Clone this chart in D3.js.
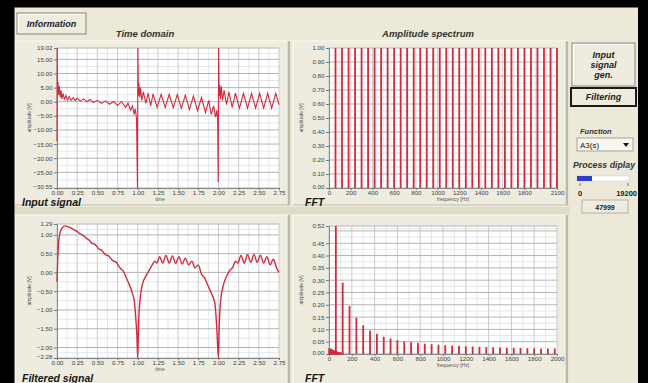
<!DOCTYPE html>
<html>
<head>
<meta charset="utf-8">
<script src="https://cdn.jsdelivr.net/npm/d3@7/dist/d3.min.js"></script>
<style>
  body { margin: 0; background: #000; }
  svg { display: block; font-family: "Liberation Sans", Arial, sans-serif; }
</style>
</head>
<body>
<div id="root"></div>
<script>
// ---- data ----
// input signal (time domain)
const inputT = [0, 0.002, 0.006, 0.012, 0.02, 0.03, 0.04, 0.05, 0.06, 0.075, 0.09, 0.11, 0.13, 0.15, 0.175, 0.2, 0.225, 0.25, 0.29, 0.33, 0.37, 0.41, 0.45, 0.5, 0.55, 0.6, 0.65, 0.7, 0.75, 0.8, 0.85, 0.88, 0.91, 0.935, 0.955, 0.97, 0.985, 0.997,
  1.002, 1.008, 1.015, 1.025, 1.035, 1.05, 1.07, 1.1, 1.13, 1.16, 1.19, 1.24, 1.29, 1.34, 1.39, 1.44, 1.49, 1.54, 1.59, 1.64, 1.69, 1.74, 1.79, 1.84, 1.88, 1.91, 1.94, 1.965, 1.98, 1.99, 1.997,
  2.002, 2.008, 2.015, 2.025, 2.035, 2.05, 2.07, 2.1, 2.13, 2.17, 2.21, 2.26, 2.31, 2.36, 2.41, 2.46, 2.51, 2.56, 2.61, 2.66, 2.71, 2.75];
const inputV = [-14, 19, 2, 7, 2.5, 5.5, 1.5, 4, 1, 3, 0.8, 2.2, 0.6, 1.8, 0.5, 1.4, 0.4, 1.2, 0.2, 1.0, 0, 0.8, -0.3, 0.5, -0.6, 0.3, -0.9, 0.1, -1.3, 0, -2, -0.5, -3, -1.5, -4.5, -2.5, -6, -30.55,
  19, 2, 6.5, 1.5, 5, 0.5, 3.5, -0.5, 3, -1.5, 2.8, -2, 2.6, -2, 2.6, -2.1, 2.5, -2.3, 2.3, -2.8, 2, -3.2, 1.5, -3.8, 0.5, -4.5, -1.5, -5.5, -3, -6, -28.5,
  19, 2, 6, 1, 5.5, 0.5, 4, -1, 3.5, -2, 3, -2.3, 3, -2.3, 3, -2.3, 3, -2.3, 3, -2.3, 3, -1];

// filtered signal (time domain)
const filtT = [0, 0.01, 0.02, 0.04, 0.07, 0.1, 0.13, 0.16, 0.2, 0.24, 0.28, 0.31, 0.34, 0.37, 0.4, 0.43, 0.46, 0.49, 0.52, 0.55, 0.58, 0.61, 0.64, 0.67, 0.7, 0.73, 0.76, 0.79, 0.82, 0.85, 0.88, 0.91, 0.94, 0.96, 0.975, 0.99, 1.0,
  1.01, 1.03, 1.06, 1.1, 1.14, 1.18, 1.21, 1.24, 1.27, 1.31, 1.35, 1.39, 1.43, 1.47, 1.51, 1.55, 1.59, 1.63, 1.67, 1.71, 1.75, 1.79, 1.83, 1.87, 1.91, 1.94, 1.96, 1.98, 2.0,
  2.01, 2.03, 2.06, 2.1, 2.14, 2.18, 2.21, 2.24, 2.28, 2.32, 2.36, 2.4, 2.44, 2.48, 2.52, 2.56, 2.6, 2.64, 2.68, 2.72, 2.75];
const filtV = [-0.25, 0.4, 0.8, 1.07, 1.2, 1.24, 1.22, 1.2, 1.15, 1.1, 1.04, 1.0, 0.96, 0.9, 0.86, 0.78, 0.76, 0.7, 0.62, 0.6, 0.52, 0.46, 0.44, 0.36, 0.3, 0.28, 0.18, 0.1, 0.04, -0.1, -0.25, -0.4, -0.6, -0.8, -1.2, -1.7, -2.28,
  -1.4, -0.7, -0.3, -0.1, 0.05, 0.2, 0.3, 0.25, 0.42, 0.25, 0.45, 0.25, 0.44, 0.24, 0.42, 0.22, 0.38, 0.2, 0.3, 0.12, 0.2, -0.05, -0.15, -0.35, -0.55, -0.7, -0.9, -1.5, -2.28,
  -1.4, -0.7, -0.35, -0.1, 0.05, 0.15, 0.3, 0.25, 0.45, 0.25, 0.48, 0.27, 0.48, 0.27, 0.46, 0.25, 0.42, 0.2, 0.35, 0.12, 0.0];

// amplitude spectrum of input: harmonics, all at 1.00
const specInF = [60, 120, 180, 240, 300, 360, 420, 480, 540, 600, 660, 720, 780, 840, 900, 960, 1020, 1080, 1140, 1200, 1260, 1320, 1380, 1440, 1500, 1560, 1620, 1680, 1740, 1800, 1860, 1920, 1980, 2040, 2100];
const specInA = [1, 1, 1, 1, 1, 1, 1, 1, 1, 1, 1, 1, 1, 1, 1, 1, 1, 1, 1, 1, 1, 1, 1, 1, 1, 1, 1, 1, 1, 1, 1, 1, 1, 1, 1];

// amplitude spectrum of filtered signal
const specOutF = [60, 120, 180, 240, 300, 360, 420, 480, 540, 600, 660, 720, 780, 840, 900, 960, 1020, 1080, 1140, 1200, 1260, 1320, 1380, 1440, 1500, 1560, 1620, 1680, 1740, 1800, 1860, 1920, 1980];
const specOutA = [0.52, 0.29, 0.195, 0.147, 0.117, 0.095, 0.082, 0.07, 0.063, 0.056, 0.051, 0.048, 0.045, 0.042, 0.04, 0.038, 0.036, 0.034, 0.033, 0.031, 0.03, 0.029, 0.028, 0.027, 0.026, 0.025, 0.025, 0.024, 0.023, 0.023, 0.022, 0.022, 0.022];
const dcF = [0, 20, 40, 60, 80, 100, 120];
const dcA = [0.02, 0.018, 0.013, 0.009, 0.006, 0.004, 0.003];

// tick labels
const timeTicks = [0, 0.25, 0.5, 0.75, 1, 1.25, 1.5, 1.75, 2, 2.25, 2.5, 2.75];
const inputYTicks = [19.02, 15, 10, 5, 0, -5, -10, -15, -20, -25, -30.55];
const filtYTicks = [1.29, 1, 0.5, 0, -0.5, -1, -1.5, -2, -2.28];
const specInXTicks = [0, 200, 400, 600, 800, 1000, 1200, 1400, 1600, 1800, 2100];
const specInYTicks = [0, 0.1, 0.2, 0.3, 0.4, 0.5, 0.6, 0.7, 0.8, 0.9, 1];
const specOutXTicks = [0, 200, 400, 600, 800, 1000, 1200, 1400, 1600, 1800, 2000];
const specOutYTicks = [0, 0.05, 0.1, 0.15, 0.2, 0.25, 0.3, 0.35, 0.4, 0.45, 0.52];

const W = 648, H = 383;
const BG = "#ECE9D8";
const RED = "#d22a3c";

const svg = d3.select("#root").append("svg")
  .attr("width", W).attr("height", H);

svg.append("rect").attr("width", W).attr("height", H).attr("fill", BG);

// band between upper and lower graphs
svg.append("rect").attr("x", 15).attr("y", 206).attr("width", 555).attr("height", 9).attr("fill", "#DFDBC9");

// graph frames
const frames = [[15, 41, 290, 206], [293, 41, 568, 206], [15, 215, 290, 390], [293, 215, 568, 390]];
frames.forEach(f => {
  svg.append("rect").attr("x", f[0]).attr("y", f[1]).attr("width", f[2] - f[0]).attr("height", f[3] - f[1])
    .attr("fill", "#EEEBDF").attr("stroke", "#fbfaf4").attr("stroke-width", 1);
  svg.append("line").attr("x1", f[2] - 1).attr("x2", f[2] - 1).attr("y1", f[1]).attr("y2", f[3])
    .attr("stroke", "#bdb9a6").attr("stroke-width", 2.5);
  svg.append("line").attr("x1", f[0]).attr("x2", f[2]).attr("y1", f[3] - 1).attr("y2", f[3] - 1)
    .attr("stroke", "#cfcbb9").attr("stroke-width", 1.5);
});

function midpoints(arr) {
  const out = [];
  for (let i = 0; i < arr.length - 1; i++) out.push((arr[i] + arr[i + 1]) / 2);
  return out;
}

function chart(o) {
  const g = svg.append("g");
  const x = d3.scaleLinear().domain(o.xDomain).range([o.left, o.right]);
  const y = d3.scaleLinear().domain(o.yDomain).range([o.bottom, o.top]);

  g.append("rect").attr("x", o.left).attr("y", o.top)
    .attr("width", o.right - o.left).attr("height", o.bottom - o.top).attr("fill", "#fff");

  // minor grid
  g.append("g").selectAll("line").data(midpoints(o.xGrid)).join("line")
    .attr("x1", d => x(d)).attr("x2", d => x(d)).attr("y1", o.top).attr("y2", o.bottom)
    .attr("stroke", "#e3e7ec").attr("stroke-width", 1);
  g.append("g").selectAll("line").data(midpoints(o.yGrid)).join("line")
    .attr("y1", d => y(d)).attr("y2", d => y(d)).attr("x1", o.left).attr("x2", o.right)
    .attr("stroke", "#e3e7ec").attr("stroke-width", 1);
  // major grid
  g.append("g").selectAll("line").data(o.xGrid).join("line")
    .attr("x1", d => x(d)).attr("x2", d => x(d)).attr("y1", o.top).attr("y2", o.bottom)
    .attr("stroke", "#c9ccd0").attr("stroke-width", 1);
  g.append("g").selectAll("line").data(o.yGrid).join("line")
    .attr("y1", d => y(d)).attr("y2", d => y(d)).attr("x1", o.left).attr("x2", o.right)
    .attr("stroke", "#b4b4b4").attr("stroke-width", 1);

  // axes
  const ya = g.append("g").attr("transform", `translate(${o.left},0)`)
    .call(d3.axisLeft(y).tickValues(o.yTicks).tickFormat(d3.format(".2f")).tickSize(3).tickPadding(1.5));
  const xa = g.append("g").attr("transform", `translate(0,${o.bottom})`)
    .call(d3.axisBottom(x).tickValues(o.xTicks).tickFormat(o.xFormat).tickSize(2).tickPadding(1));
  [ya, xa].forEach(a => {
    a.select(".domain").attr("stroke", "#888").attr("stroke-width", 1);
    a.selectAll(".tick line").attr("stroke", "#777");
    a.selectAll(".tick text").attr("fill", "#444").attr("font-size", 6.2);
  });
  // lowest y label sits a touch higher so it clears the x labels
  ya.selectAll(".tick").filter(d => d === o.yDomain[0]).select("text").attr("dy", "0.1em");

  // axis titles
  g.append("text").attr("transform", `translate(${o.left - 26},${(o.top + o.bottom) / 2}) rotate(-90)`)
    .attr("text-anchor", "middle").attr("font-size", 5).attr("fill", "#555").text("amplitude [V]");
  g.append("text").attr("x", o.xLabelX).attr("y", o.bottom + 12.5)
    .attr("text-anchor", "middle").attr("font-size", 5).attr("fill", "#555").text(o.xLabel);

  // graph caption
  g.append("text").attr("x", o.capX).attr("y", o.capY)
    .attr("font-size", 10.5).attr("font-weight", "bold").attr("font-style", "italic")
    .attr("fill", "#151515").text(o.caption);
  return { x, y, g };
}

// ---- top-left: input signal ----
const c1 = chart({
  left: 57, right: 279, top: 48, bottom: 188,
  xDomain: [0, 2.75], yDomain: [-30.55, 19.02],
  xTicks: timeTicks, yTicks: inputYTicks, xFormat: d3.format(".2f"),
  xGrid: timeTicks, yGrid: [-30.55, -25, -20, -15, -10, -5, 0, 5, 10, 15, 19.02],
  xLabel: "time", xLabelX: 160, caption: "Input signal", capX: 22, capY: 205.5
});
c1.g.append("path")
  .datum(d3.zip(inputT, inputV))
  .attr("fill", "none").attr("stroke", RED).attr("stroke-width", 1.1)
  .attr("d", d3.line().x(d => c1.x(d[0])).y(d => c1.y(d[1])));

// ---- bottom-left: filtered signal ----
const c3 = chart({
  left: 57, right: 279, top: 224, bottom: 358,
  xDomain: [0, 2.75], yDomain: [-2.28, 1.29],
  xTicks: timeTicks, yTicks: filtYTicks, xFormat: d3.format(".2f"),
  xGrid: timeTicks, yGrid: [-2.28, -2, -1.5, -1, -0.5, 0, 0.5, 1, 1.29],
  xLabel: "time", xLabelX: 160, caption: "Filtered signal", capX: 22, capY: 381.5
});
c3.g.append("path")
  .datum(d3.zip(filtT, filtV))
  .attr("fill", "none").attr("stroke", RED).attr("stroke-width", 1.4)
  .attr("d", d3.line().curve(d3.curveMonotoneX).x(d => c3.x(d[0])).y(d => c3.y(d[1])));

// ---- top-right: amplitude spectrum of input ----
const c2 = chart({
  left: 329, right: 557, top: 48, bottom: 188,
  xDomain: [0, 2100], yDomain: [0, 1],
  xTicks: specInXTicks, yTicks: specInYTicks, xFormat: d3.format("d"),
  xGrid: [0, 200, 400, 600, 800, 1000, 1200, 1400, 1600, 1800, 2000, 2100], yGrid: specInYTicks,
  xLabel: "frequency [Hz]", xLabelX: 453, caption: "FFT", capX: 305, capY: 205.5
});
c2.g.append("g").selectAll("rect").data(d3.zip(specInF, specInA)).join("rect")
  .attr("x", d => c2.x(d[0]) - 0.9).attr("width", 1.8)
  .attr("y", d => c2.y(d[1])).attr("height", d => c2.y(0) - c2.y(d[1]))
  .attr("fill", RED);

// ---- bottom-right: amplitude spectrum of filtered signal ----
const c4 = chart({
  left: 329, right: 557, top: 226, bottom: 354,
  xDomain: [0, 2000], yDomain: [0, 0.52],
  xTicks: specOutXTicks, yTicks: specOutYTicks, xFormat: d3.format("d"),
  xGrid: specOutXTicks, yGrid: [0, 0.05, 0.1, 0.15, 0.2, 0.25, 0.3, 0.35, 0.4, 0.45, 0.5, 0.52],
  xLabel: "frequency [Hz]", xLabelX: 453, caption: "FFT", capX: 305, capY: 381.5
});
c4.g.append("path")
  .datum(d3.zip(dcF, dcA))
  .attr("fill", RED).attr("stroke", RED).attr("stroke-width", 1.5)
  .attr("d", d3.area().x(d => c4.x(d[0])).y0(c4.y(0)).y1(d => c4.y(d[1])));
c4.g.append("g").selectAll("rect").data(d3.zip(specOutF, specOutA)).join("rect")
  .attr("x", d => c4.x(d[0]) - 0.9).attr("width", 1.8)
  .attr("y", d => c4.y(d[1])).attr("height", d => c4.y(0) - c4.y(d[1]))
  .attr("fill", RED);

// ---- section titles ----
svg.append("text").attr("x", 145).attr("y", 37).attr("text-anchor", "middle")
  .attr("font-size", 9.5).attr("font-weight", "bold").attr("font-style", "italic")
  .attr("fill", "#333").text("Time domain");
svg.append("text").attr("x", 428).attr("y", 37).attr("text-anchor", "middle")
  .attr("font-size", 9.5).attr("font-weight", "bold").attr("font-style", "italic")
  .attr("fill", "#333").text("Amplitude spectrum");

// ---- buttons and controls ----
function button(x0, y0, w, h, lines, dark) {
  const b = svg.append("g");
  b.append("rect").attr("x", x0).attr("y", y0).attr("width", w).attr("height", h)
    .attr("fill", "#EEEBDF").attr("stroke", dark ? "#1a1a1a" : "#9b9888").attr("stroke-width", dark ? 2 : 1.2);
  if (!dark) {
    b.append("path").attr("d", `M${x0 + 1.5},${y0 + h - 1.5}V${y0 + 1.5}H${x0 + w - 1.5}`)
      .attr("fill", "none").attr("stroke", "#fff").attr("stroke-width", 1.2);
  }
  const cy = y0 + h / 2 - (lines.length - 1) * 5;
  lines.forEach((t, i) => {
    b.append("text").attr("x", x0 + w / 2).attr("y", cy + i * 10 + 3.2).attr("text-anchor", "middle")
      .attr("font-size", 9).attr("font-weight", "bold").attr("font-style", "italic").attr("fill", "#222").text(t);
  });
}
button(17, 13, 69, 21, ["Information"], false);
button(572, 43, 63, 43, ["Input", "signal", "gen."], false);
button(571, 88, 65, 18, ["Filtering"], true);

svg.append("text").attr("x", 580).attr("y", 134).attr("font-size", 7.5).attr("font-weight", "bold")
  .attr("font-style", "italic").attr("fill", "#333").text("Function");
svg.append("rect").attr("x", 577).attr("y", 138).attr("width", 56).attr("height", 13)
  .attr("fill", "#F7F6F0").attr("stroke", "#a8a594");
svg.append("text").attr("x", 580).attr("y", 148).attr("font-size", 8).attr("fill", "#111").text("A3(s)");
svg.append("path").attr("d", "M623,143h6l-3,4z").attr("fill", "#111");

svg.append("text").attr("x", 573).attr("y", 168).attr("font-size", 8.8).attr("font-weight", "bold")
  .attr("font-style", "italic").attr("fill", "#333").text("Process diplay");
svg.append("rect").attr("x", 577).attr("y", 176).attr("width", 52).attr("height", 5)
  .attr("fill", "#fff").attr("stroke", "#ccc").attr("stroke-width", 0.5);
svg.append("rect").attr("x", 577).attr("y", 176).attr("width", 15).attr("height", 5).attr("fill", "#2a3fd0");
svg.append("line").attr("x1", 580).attr("x2", 580).attr("y1", 183).attr("y2", 186).attr("stroke", "#777");
svg.append("line").attr("x1", 628).attr("x2", 628).attr("y1", 183).attr("y2", 186).attr("stroke", "#777");
svg.append("text").attr("x", 578).attr("y", 196).attr("font-size", 7.5).attr("font-weight", "bold").attr("fill", "#222").text("0");
svg.append("text").attr("x", 637).attr("y", 196).attr("text-anchor", "end").attr("font-size", 7.5)
  .attr("font-weight", "bold").attr("fill", "#222").text("19200");
svg.append("rect").attr("x", 582).attr("y", 200).attr("width", 46).attr("height", 13)
  .attr("fill", "#EEEBDF").attr("stroke", "#b5b2a2");
svg.append("text").attr("x", 605).attr("y", 209.5).attr("text-anchor", "middle").attr("font-size", 7)
  .attr("font-weight", "bold").attr("fill", "#222").text("47999");

// ---- black screen border ----
svg.append("rect").attr("x", 0).attr("y", 0).attr("width", W).attr("height", 7.5).attr("fill", "#000");
svg.append("rect").attr("x", 0).attr("y", 0).attr("width", 14.5).attr("height", H).attr("fill", "#000");
svg.append("rect").attr("x", 638).attr("y", 0).attr("width", 10).attr("height", H).attr("fill", "#000");
</script>
</body>
</html>
